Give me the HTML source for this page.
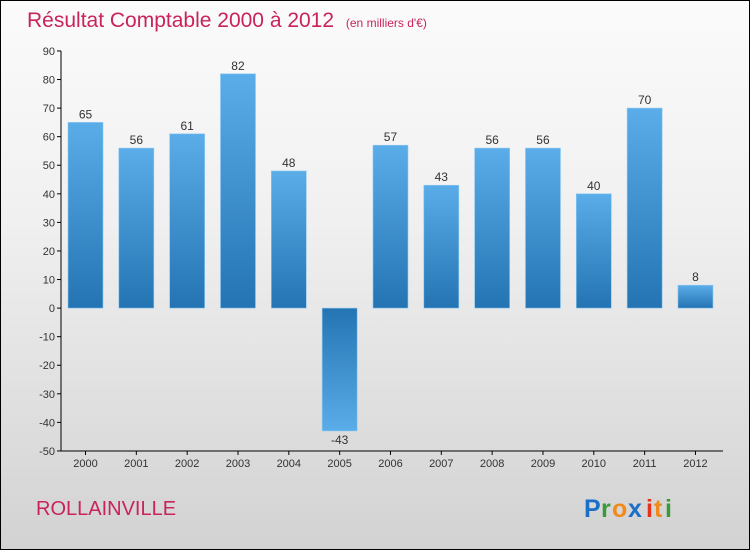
<!DOCTYPE html>
<html><head><meta charset="utf-8"><style>
body{margin:0;width:750px;height:550px;overflow:hidden;font-family:"Liberation Sans",sans-serif}
#wrap{position:absolute;left:0;top:0;width:748px;height:548px;border:1px solid #000;background:linear-gradient(#fbfbfb 0%,#f0f0f0 40%,#d2d2d2 100%)}
</style></head><body>
<div id="wrap">
<svg width="748" height="548" style="position:absolute;left:0;top:0" id="svg">
<defs>
<linearGradient id="gp" x1="0" y1="0" x2="0" y2="1"><stop offset="0" stop-color="#5aade8"/><stop offset="1" stop-color="#2474b3"/></linearGradient>
<linearGradient id="gn" x1="0" y1="0" x2="0" y2="1"><stop offset="0" stop-color="#2474b3"/><stop offset="1" stop-color="#5aade8"/></linearGradient>
</defs>
<text x="26" y="26" font-size="21" fill="#c8245a">Résultat Comptable 2000 à 2012 <tspan font-size="12" dx="6">(en milliers d'€)</tspan></text>
<text x="35" y="514" font-size="20" fill="#c8245a">ROLLAINVILLE</text>
<g font-size="25" font-weight="bold">
<text x="583" y="516" fill="#1a6fc8">P</text><text x="600" y="516" fill="#3a9a3a">r</text><text x="611" y="516" fill="#f08a1a">o</text><text x="627" y="516" fill="#1a6fc8">x</text><text x="645" y="516" fill="#e8301a">i</text><text x="653" y="516" fill="#f08a1a">t</text><text x="664" y="516" fill="#3a9a3a">i</text>
</g>
<g id="g"></g>
</svg></div>
<script>
const years=["2000","2001","2002","2003","2004","2005","2006","2007","2008","2009","2010","2011","2012"];
const values=[65,56,61,82,48,-43,57,43,56,56,40,70,8];
const ticks=[90,80,70,60,50,40,30,20,10,0,-10,-20,-30,-40,-50];
const NS="http://www.w3.org/2000/svg",g=document.getElementById('g');
const y=v=>307.1-v*(400/140);
const x=i=>84.5+i*50.83;
function mk(t,a){const e=document.createElementNS(NS,t);for(const k in a)e.setAttribute(k,a[k]);g.appendChild(e);return e;}
let ax=mk('line',{x1:60,x2:60,y1:y(90),y2:y(-50),stroke:'#000'});


let bx=mk('line',{x1:60,x2:722,y1:y(-50),y2:y(-50),stroke:'#000'});


ticks.forEach(t=>{
 let l=mk('line',{x1:56,x2:60,y1:y(t),y2:y(t),stroke:'#000'});
 
 
 let tx=mk('text',{x:54,y:y(t)+4,'text-anchor':'end','font-size':11,fill:'#333'});tx.textContent=t;
 
 
});
years.forEach((yr,i)=>{
 const v=values[i],top=Math.min(y(v),y(0)),h=Math.abs(y(v)-y(0));
 let r=mk('rect',{x:x(i)-17.5,y:top,width:35,height:h,fill:v>=0?'url(#gp)':'url(#gn)',stroke:'#8cc8f0','stroke-width':0.6});
 
 
 let lb=mk('text',{x:x(i),y:v>=0?y(v)-4:y(v)+13,'text-anchor':'middle','font-size':12,fill:'#333'});lb.textContent=v;
 
 
 let tk=mk('line',{x1:x(i),x2:x(i),y1:y(-50),y2:y(-50)+4,stroke:'#000'});
 
 
 let xl=mk('text',{x:x(i),y:466,'text-anchor':'middle','font-size':11,fill:'#333'});xl.textContent=yr;
 
 
});
</script>
</body></html>
